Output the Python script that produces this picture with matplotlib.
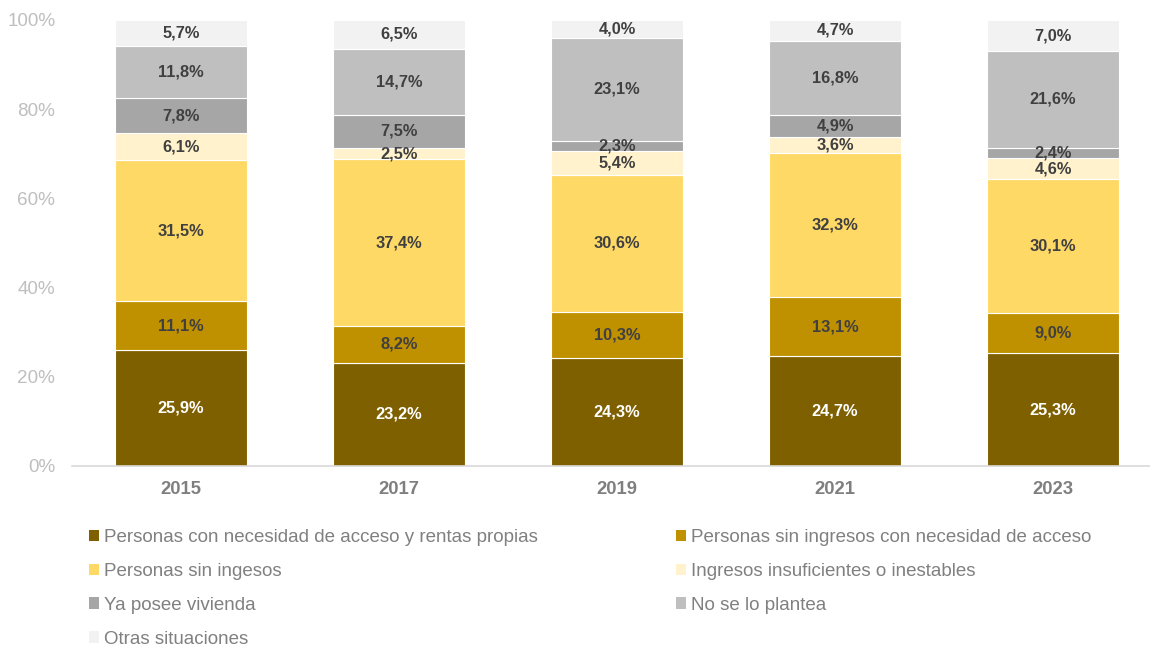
import matplotlib
matplotlib.use("Agg")
import matplotlib.pyplot as plt
import numpy as np
from matplotlib.patches import Patch

plt.rcParams['font.family'] = ['Liberation Sans', 'DejaVu Sans']

years = ["2015", "2017", "2019", "2021", "2023"]
series_names = [
    "Personas con necesidad de acceso y rentas propias",
    "Personas sin ingresos con necesidad de acceso",
    "Personas sin ingesos",
    "Ingresos insuficientes o inestables",
    "Ya posee vivienda",
    "No se lo plantea",
    "Otras situaciones",
]
rentas_propias = [25.9, 23.2, 24.3, 24.7, 25.3]
sin_ingresos_acceso = [11.1, 8.2, 10.3, 13.1, 9.0]
sin_ingesos = [31.5, 37.4, 30.6, 32.3, 30.1]
insuficientes = [6.1, 2.5, 5.4, 3.6, 4.6]
ya_posee = [7.8, 7.5, 2.3, 4.9, 2.4]
no_plantea = [11.8, 14.7, 23.1, 16.8, 21.6]
otras = [5.7, 6.5, 4.0, 4.7, 7.0]
y_ticks = [0, 20, 40, 60, 80, 100]

series = [rentas_propias, sin_ingresos_acceso, sin_ingesos, insuficientes,
          ya_posee, no_plantea, otras]
colors = ["#7F6000", "#BF9000", "#FFD966", "#FFF2CC", "#A6A6A6", "#BFBFBF", "#F2F2F2"]
label_colors = ["white"] + ["#404040"] * 6

fig = plt.figure(figsize=(11.5, 6.46), dpi=100)
ax = fig.add_axes([72 / 1150, (646 - 466) / 646, 1078 / 1150, 446 / 646])

x = np.arange(len(years))
bottom = np.zeros(len(years))
for vals, col, lc in zip(series, colors, label_colors):
    vals = np.array(vals)
    ax.bar(x, vals, 0.605, bottom=bottom, color=col, edgecolor="white", linewidth=0.8)
    for xi, b, v in zip(x, bottom, vals):
        ax.text(xi, b + v / 2, f"{v:.1f}%".replace(".", ","), ha="center", va="center",
                fontsize=11.8, fontweight="bold", color=lc)
    bottom += vals

ax.set_xlim(-0.5, -0.5 + 1078 / 218)
ax.set_ylim(0, 100)
ax.set_yticks(y_ticks)
ax.set_yticklabels([f"{t}%" for t in y_ticks], fontsize=13.6, color="#BFBFBF")
ax.set_xticks(x)
ax.set_xticklabels(years, fontsize=13.3, fontweight="bold", color="#7F7F7F")
ax.tick_params(axis="both", length=0)
ax.tick_params(axis="x", pad=11)
ax.tick_params(axis="y", pad=12)
for s in ["left", "right", "top"]:
    ax.spines[s].set_visible(False)
ax.spines["bottom"].set_color("#D9D9D9")
ax.spines["bottom"].set_linewidth(1.2)

handles = [Patch(facecolor=c, edgecolor="none") for c in colors]
common = dict(frameon=False, fontsize=13.5, labelcolor="#808080", handlelength=0.55,
              handleheight=0.55, handletextpad=0.25, labelspacing=0.9,
              borderaxespad=0, borderpad=0)
left_idx = [0, 2, 4, 6]
right_idx = [1, 3, 5]
fig.legend([handles[i] for i in left_idx], [series_names[i] for i in left_idx],
           loc="upper left", bbox_to_anchor=(89 / 1150, 1 - 529 / 646), **common)
fig.legend([handles[i] for i in right_idx], [series_names[i] for i in right_idx],
           loc="upper left", bbox_to_anchor=(676 / 1150, 1 - 529 / 646), **common)

fig.savefig("out.png", dpi=100)
